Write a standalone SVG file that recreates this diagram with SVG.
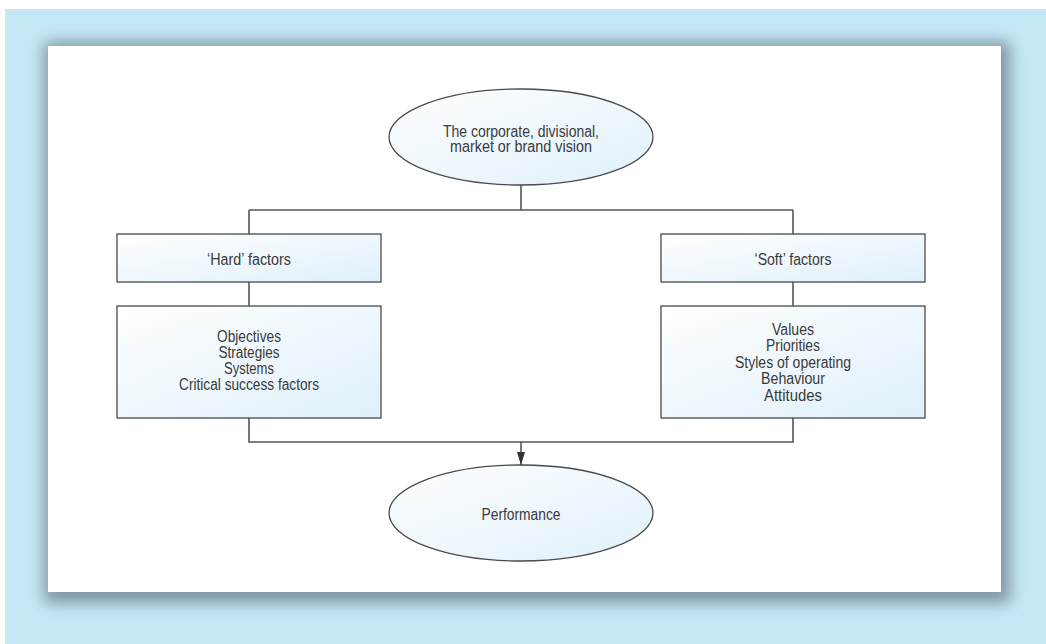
<svg xmlns="http://www.w3.org/2000/svg" width="1046" height="644" viewBox="0 0 1046 644">
  <style>
    .node { stroke: #4a4a4a; stroke-width: 1.3; fill: url(#nodeFill); }
    .conn { stroke: #555555; stroke-width: 1.6; fill: none; }
    .lbl { font-family: "Liberation Sans", Arial, sans-serif; font-size: 16px; fill: #3a3a3a; text-anchor: middle; }
  </style>
  <defs>
    <linearGradient id="nodeFill" x1="0" y1="0" x2="1" y2="1">
      <stop offset="0" stop-color="#ffffff"/>
      <stop offset="1" stop-color="#dff0fa"/>
    </linearGradient>
    <filter id="shadow" x="-0.1" y="-0.1" width="1.2" height="1.2">
      <feGaussianBlur stdDeviation="8"/>
    </filter>
    <marker id="arrow" viewBox="0 0 10 10" refX="10" refY="5" markerWidth="13" markerHeight="8" markerUnits="userSpaceOnUse" orient="auto" preserveAspectRatio="none">
      <path d="M0,0 L10,5 L0,10 z" fill="#333333"/>
    </marker>
  </defs>

  <rect x="0" y="0" width="1046" height="644" fill="#ffffff"/>
  <rect x="5" y="9" width="1041" height="635" fill="#c5e8f7"/>
  <rect x="44" y="42" width="966" height="561" fill="#7d94a2" filter="url(#shadow)"/>
  <rect x="48" y="46" width="953" height="546" fill="#ffffff"/>

  <g id="connectors">
    <path class="conn" d="M521,185 V210 M249,210 H793 M249,210 V234 M793,210 V234"/>
    <path class="conn" d="M249,282 V306 M793,282 V306"/>
    <path class="conn" d="M249,418 V442 H793 V418"/>
    <path class="conn" d="M521,442 V465" marker-end="url(#arrow)"/>
  </g>

  <g id="vision">
    <ellipse class="node" cx="521" cy="137" rx="132" ry="48"/>
    <text class="lbl" x="521" y="137" textLength="156" lengthAdjust="spacingAndGlyphs">The corporate, divisional,</text>
    <text class="lbl" x="521" y="152" textLength="142" lengthAdjust="spacingAndGlyphs">market or brand vision</text>
  </g>

  <g id="hard">
    <rect class="node" x="117" y="234" width="264" height="48"/>
    <text class="lbl" x="249" y="265" textLength="84" lengthAdjust="spacingAndGlyphs">‘Hard’ factors</text>
  </g>

  <g id="soft">
    <rect class="node" x="661" y="234" width="264" height="48"/>
    <text class="lbl" x="793" y="265" textLength="77" lengthAdjust="spacingAndGlyphs">‘Soft’ factors</text>
  </g>

  <g id="hard-list">
    <rect class="node" x="117" y="306" width="264" height="112"/>
    <text class="lbl" x="249" y="342" textLength="64" lengthAdjust="spacingAndGlyphs">Objectives</text>
    <text class="lbl" x="249" y="358" textLength="61" lengthAdjust="spacingAndGlyphs">Strategies</text>
    <text class="lbl" x="249" y="374" textLength="50" lengthAdjust="spacingAndGlyphs">Systems</text>
    <text class="lbl" x="249" y="390" textLength="140" lengthAdjust="spacingAndGlyphs">Critical success factors</text>
  </g>

  <g id="soft-list">
    <rect class="node" x="661" y="306" width="264" height="112"/>
    <text class="lbl" x="793" y="335" textLength="42" lengthAdjust="spacingAndGlyphs">Values</text>
    <text class="lbl" x="793" y="351" textLength="54" lengthAdjust="spacingAndGlyphs">Priorities</text>
    <text class="lbl" x="793" y="368" textLength="116" lengthAdjust="spacingAndGlyphs">Styles of operating</text>
    <text class="lbl" x="793" y="384" textLength="64" lengthAdjust="spacingAndGlyphs">Behaviour</text>
    <text class="lbl" x="793" y="401" textLength="58" lengthAdjust="spacingAndGlyphs">Attitudes</text>
  </g>

  <g id="performance">
    <ellipse class="node" cx="521" cy="513" rx="132" ry="48"/>
    <text class="lbl" x="521" y="520" textLength="79" lengthAdjust="spacingAndGlyphs">Performance</text>
  </g>
</svg>
